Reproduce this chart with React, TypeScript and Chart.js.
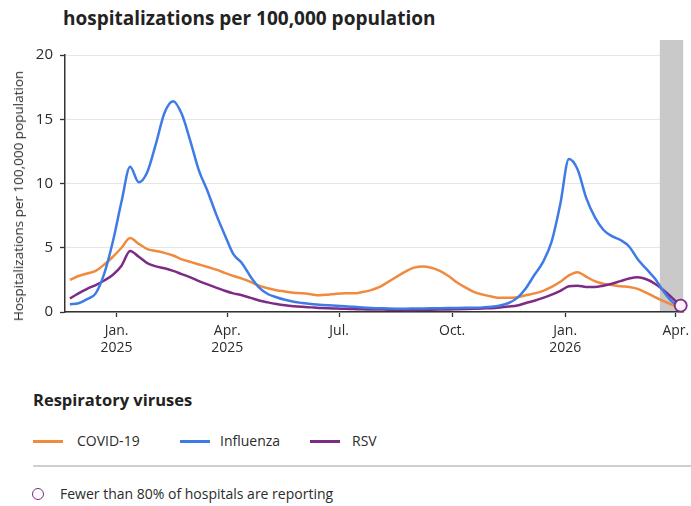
import React, { useEffect, useRef } from "react";
import { Chart, registerables } from "chart.js";

Chart.register(...registerables);

// Weekly rates, one value per week starting from the first week below.
const firstWeek = "2024-11-24";
const covid = [
  2.5, 2.8, 3.0, 3.2, 3.7, 4.3, 5.0, 5.75, 5.3, 4.9,
  4.75, 4.6, 4.4, 4.1, 3.9, 3.7, 3.5, 3.3, 3.05, 2.8,
  2.6, 2.35, 2.05, 1.85, 1.7, 1.6, 1.5, 1.45, 1.38, 1.3,
  1.35, 1.42, 1.45, 1.45, 1.55, 1.7, 1.95, 2.35, 2.75, 3.15,
  3.45, 3.55, 3.45, 3.2, 2.8, 2.3, 1.9, 1.55, 1.35, 1.2,
  1.1, 1.1, 1.15, 1.3, 1.45, 1.65, 1.95, 2.35, 2.85, 3.1,
  2.75, 2.4, 2.2, 2.1, 2.0, 1.95, 1.8, 1.5, 1.15, 0.85,
  0.55, 0.3,
];
const influenza = [
  0.6, 0.68, 1.0, 1.45, 3.0, 5.5, 8.6, 11.3, 10.1, 10.9,
  13.1, 15.5, 16.4, 15.4, 13.3, 11.0, 9.4, 7.6, 6.0, 4.5,
  3.8, 2.75, 1.9, 1.4, 1.15, 0.95, 0.8, 0.7, 0.62, 0.57,
  0.52, 0.48, 0.45, 0.4, 0.35, 0.31, 0.29, 0.27, 0.26, 0.26,
  0.27, 0.28, 0.29, 0.3, 0.31, 0.32, 0.33, 0.34, 0.36, 0.4,
  0.5, 0.7, 1.1, 1.85, 2.9, 3.9, 5.5, 8.4, 11.9, 11.1,
  8.9, 7.4, 6.4, 5.9, 5.6, 5.1, 4.1, 3.35, 2.6, 1.6,
  0.8, 0.3,
];
const rsv = [
  1.05, 1.45, 1.8, 2.1, 2.45, 2.9, 3.6, 4.75, 4.3, 3.8,
  3.55, 3.4, 3.2, 2.95, 2.7, 2.4, 2.15, 1.9, 1.65, 1.45,
  1.3, 1.1, 0.9, 0.75, 0.62, 0.52, 0.45, 0.4, 0.36, 0.32,
  0.29, 0.27, 0.25, 0.23, 0.21, 0.2, 0.19, 0.18, 0.17, 0.16,
  0.16, 0.17, 0.18, 0.19, 0.2, 0.22, 0.24, 0.26, 0.28, 0.3,
  0.35, 0.42, 0.5, 0.7, 0.88, 1.1, 1.35, 1.65, 2.0, 2.05,
  1.95, 1.95, 2.05, 2.2, 2.4, 2.6, 2.7, 2.55, 2.2, 1.7,
  1.1, 0.5,
];

// Axis range and month ticks
const axisStart = "2024-11-20";
const axisEnd = "2026-04-07";
const tickDates = ["2025-01-01", "2025-04-01", "2025-07-01", "2025-10-01", "2026-01-01", "2026-04-01"];
const tickLabels = [["Jan.", "2025"], ["Apr.", "2025"], ["Jul."], ["Oct."], ["Jan.", "2026"], ["Apr."]];
const yTicks = [0, 5, 10, 15, 20];

// Weeks where fewer than 80% of hospitals report
const partialReportingFrom = "2026-03-19";

const COLORS = {
  covid: "#f08a3e",
  influenza: "#3f7be6",
  rsv: "#7d2c86",
};

const FONT = "'Open Sans', Lato, sans-serif";

// Days since 2025-01-01
const dayOf = (iso: string) => {
  const [y, m, d] = iso.split("-").map(Number);
  return (Date.UTC(y, m - 1, d) - Date.UTC(2025, 0, 1)) / 86400000;
};

const weekly = (values: number[]) =>
  values.map((v, i) => ({ x: dayOf(firstWeek) + 7 * i, y: v }));

const bandPlugin = {
  id: "partialBand",
  beforeDatasetsDraw(chart: any) {
    const { ctx, chartArea, scales } = chart;
    const x0 = scales.x.getPixelForValue(dayOf(partialReportingFrom));
    ctx.save();
    ctx.fillStyle = "#c9c9c9";
    ctx.fillRect(x0, chartArea.top - 15, chartArea.right - x0, chartArea.bottom - chartArea.top + 14);
    ctx.restore();
  },
};

export default function App() {
  const canvasRef = useRef<HTMLCanvasElement | null>(null);

  useEffect(() => {
    document.body.style.margin = "0";
    document.body.style.background = "#fff";
    const canvas = canvasRef.current;
    if (!canvas) return;
    const lastX = dayOf(firstWeek) + 7 * (rsv.length - 1);
    const line = (label: string, data: number[], color: string) => ({
      label,
      data: weekly(data),
      borderColor: color,
      backgroundColor: color,
      borderWidth: 2.5,
      pointRadius: 0,
      cubicInterpolationMode: "monotone" as const,
      fill: false,
    });
    const chart = new Chart(canvas, {
      type: "line",
      data: {
        datasets: [
          {
            label: "Fewer than 80% of hospitals are reporting",
            data: [{ x: lastX, y: rsv[rsv.length - 1] }],
            showLine: false,
            pointRadius: 6,
            pointBorderWidth: 1.8,
            pointBorderColor: COLORS.rsv,
            pointBackgroundColor: "#fdf0fb",
            clip: false,
          } as any,
          line("Influenza", influenza, COLORS.influenza),
          line("RSV", rsv, COLORS.rsv),
          line("COVID-19", covid, COLORS.covid),
        ],
      },
      options: {
        animation: false,
        responsive: false,
        devicePixelRatio: 1,
        layout: { padding: { top: 55, right: 5, left: 0, bottom: 0 } },
        plugins: { legend: { display: false }, tooltip: { enabled: false } },
        scales: {
          x: {
            type: "linear",
            min: dayOf(axisStart),
            max: dayOf(axisEnd),
            afterBuildTicks: (axis: any) => {
              axis.ticks = tickDates.map((d) => ({ value: dayOf(d) }));
            },
            afterFit: (axis: any) => {
              axis.height = 63;
              axis.paddingLeft = 0;
              axis.paddingRight = 0;
            },
            ticks: {
              autoSkip: false,
              maxRotation: 0,
              padding: 6,
              color: "#2b2b2b",
              font: { family: FONT, size: 14, lineHeight: 1.2 },
              callback: (_v: any, i: number) => tickLabels[i],
            },
            grid: { drawOnChartArea: false, drawTicks: true, tickLength: 5, tickColor: "#333", tickWidth: 1.3 },
            border: { color: "#333", width: 1.5 },
          },
          y: {
            min: 0,
            max: 20,
            afterBuildTicks: (axis: any) => {
              axis.ticks = yTicks.map((v) => ({ value: v }));
            },
            afterFit: (axis: any) => {
              axis.width = 65;
              axis.paddingTop = 0;
              axis.paddingBottom = 0;
            },
            ticks: {
              padding: 7,
              color: "#2b2b2b",
              font: { family: FONT, size: 15 },
            },
            grid: { color: "#e6e6e6", lineWidth: 1, tickLength: 5, tickColor: "#333", tickWidth: 1.3 },
            border: { color: "#333", width: 1.5 },
          },
        },
      },
      plugins: [bandPlugin],
    });
    return () => chart.destroy();
  }, []);

  const legendItem = (color: string, text: string, left: number, textLeft: number) => (
    <>
      <div style={{ position: "absolute", left, top: 440, width: 30, height: 2.5, background: color }} />
      <div style={{ position: "absolute", left: textLeft, top: 431, fontSize: 14, lineHeight: "20px", color: "#2b2b2b" }}>{text}</div>
    </>
  );

  return (
    <div style={{ position: "relative", width: 691, height: 506, fontFamily: FONT, overflow: "hidden", background: "#fff" }}>
      <div style={{ position: "absolute", left: 63, top: 5, fontSize: 19, lineHeight: "26px", fontWeight: 700, color: "#222", whiteSpace: "nowrap" }}>
        hospitalizations per 100,000 population
      </div>
      <canvas ref={canvasRef} width={691} height={375} style={{ position: "absolute", left: 0, top: 0 }} />
      <div
        style={{
          position: "absolute",
          left: 18,
          top: 196,
          width: 0,
          height: 0,
        }}
      >
        <div
          style={{
            position: "absolute",
            left: 0,
            top: 0,
            transform: "translate(-50%, -50%) rotate(-90deg)",
            fontSize: 13.5,
            lineHeight: "18px",
            color: "#2b2b2b",
            whiteSpace: "nowrap",
          }}
        >
          Hospitalizations per 100,000 population
        </div>
      </div>
      <div style={{ position: "absolute", left: 33, top: 388, fontSize: 16.5, lineHeight: "24px", fontWeight: 700, color: "#222" }}>Respiratory viruses</div>
      {legendItem(COLORS.covid, "COVID-19", 33, 77)}
      {legendItem(COLORS.influenza, "Influenza", 180, 220)}
      {legendItem(COLORS.rsv, "RSV", 310, 352)}
      <div style={{ position: "absolute", left: 33, right: 0, top: 465, height: 1.5, background: "#cfcfcf" }} />
      <div
        style={{
          position: "absolute",
          left: 32,
          top: 488,
          width: 12,
          height: 12,
          borderRadius: "50%",
          border: `1.8px solid ${COLORS.rsv}`,
          boxSizing: "border-box",
        }}
      />
      <div style={{ position: "absolute", left: 60, top: 484, fontSize: 14, lineHeight: "20px", color: "#2b2b2b" }}>
        Fewer than 80% of hospitals are reporting
      </div>
    </div>
  );
}
